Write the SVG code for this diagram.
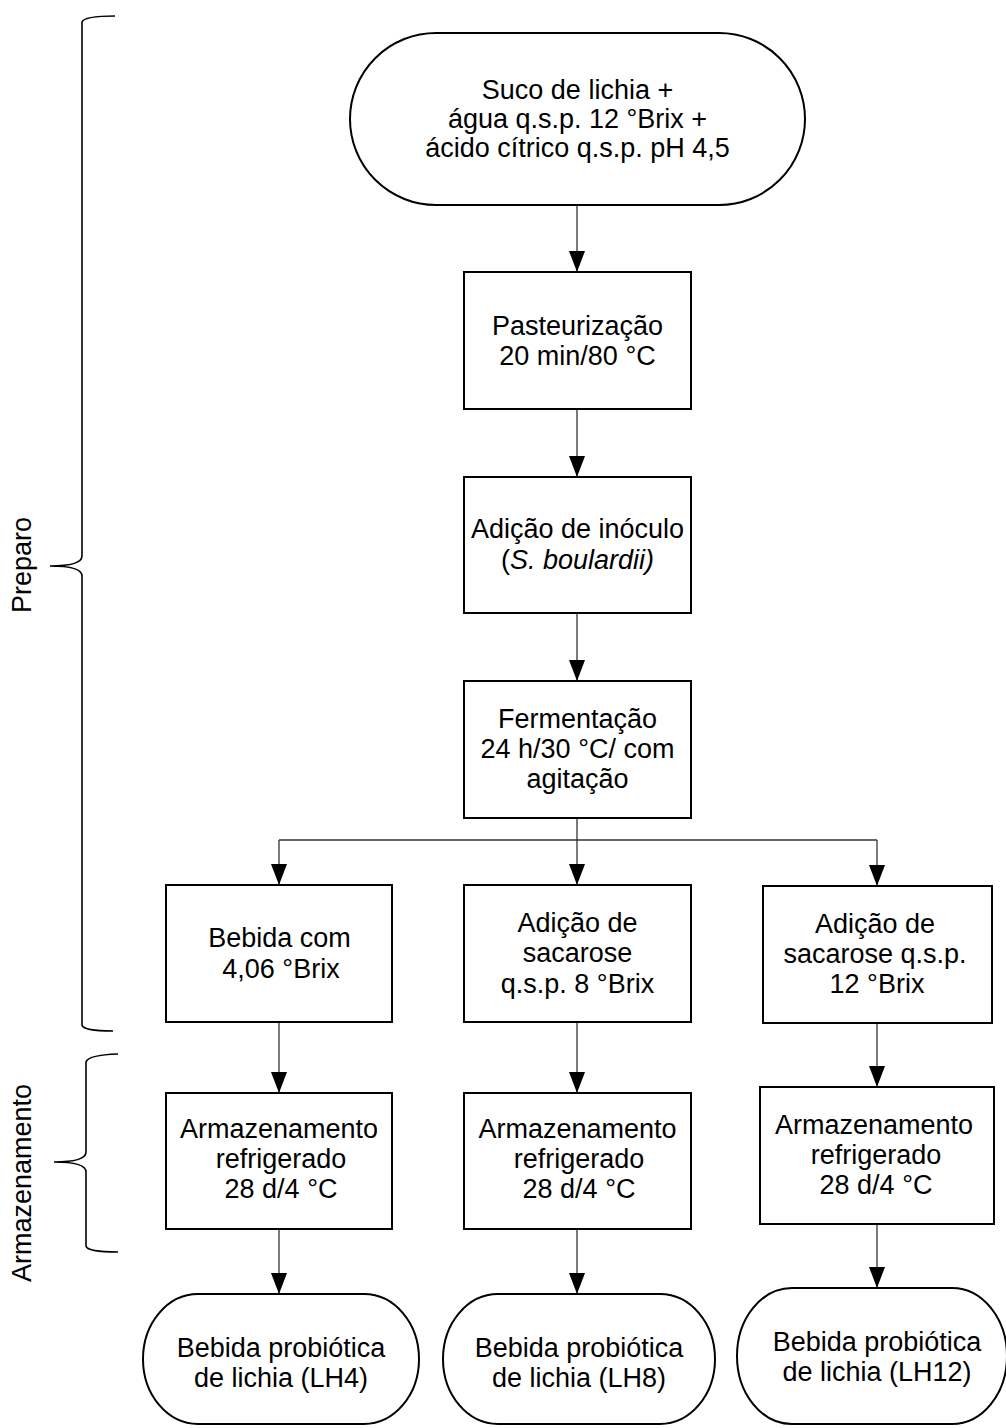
<svg xmlns="http://www.w3.org/2000/svg" width="1006" height="1428" viewBox="0 0 1006 1428">
<style>
.n{fill:#fff;stroke:#000;stroke-width:2}
.t{font-family:"Liberation Sans",Arial,sans-serif;font-size:27px;fill:#000;text-anchor:middle}
.c{fill:none;stroke:#333;stroke-width:1.3}
.b{fill:none;stroke:#000;stroke-width:1.6}
</style>
<defs>
<marker id="ah" markerWidth="21" markerHeight="16" refX="21" refY="8" orient="auto" markerUnits="userSpaceOnUse" viewBox="0 0 21 16">
<path d="M0,0 L21,8 L0,16 Z" fill="#000"/>
</marker>
</defs>
<rect width="1006" height="1428" fill="#fff"/>

<g id="braces">
<path class="b" d="M115,16 Q84,16 82,22 L82,556 Q82,566 50,566 Q82,566 82,576 L82,1025 Q83,1031 113,1031"/>
<path class="b" d="M118,1054 Q88,1055 86,1062 L86,1152 Q86,1162 54,1162 Q86,1162 86,1172 L86,1246 Q87,1252 118,1252"/>
<text class="t" transform="translate(31,565) rotate(-90)">Preparo</text>
<text class="t" transform="translate(31,1183) rotate(-90)">Armazenamento</text>
</g>

<g id="connectors">
<line class="c" x1="577" y1="205" x2="577" y2="272" marker-end="url(#ah)"/>
<line class="c" x1="577" y1="409" x2="577" y2="477" marker-end="url(#ah)"/>
<line class="c" x1="577" y1="613" x2="577" y2="681" marker-end="url(#ah)"/>
<polyline class="c" points="577,818 577,840"/>
<polyline class="c" points="279,840 877,840"/>
<line class="c" x1="279" y1="840" x2="279" y2="885" marker-end="url(#ah)"/>
<line class="c" x1="577" y1="840" x2="577" y2="885" marker-end="url(#ah)"/>
<line class="c" x1="877" y1="840" x2="877" y2="886" marker-end="url(#ah)"/>
<line class="c" x1="279" y1="1022" x2="279" y2="1093" marker-end="url(#ah)"/>
<line class="c" x1="577" y1="1022" x2="577" y2="1093" marker-end="url(#ah)"/>
<line class="c" x1="877" y1="1023" x2="877" y2="1087" marker-end="url(#ah)"/>
<line class="c" x1="279" y1="1229" x2="279" y2="1294" marker-end="url(#ah)"/>
<line class="c" x1="577" y1="1229" x2="577" y2="1294" marker-end="url(#ah)"/>
<line class="c" x1="877" y1="1224" x2="877" y2="1288" marker-end="url(#ah)"/>
</g>

<g id="start">
<rect class="n" x="350" y="33" width="455" height="172" rx="86" ry="86"/>
<text class="t" x="577.5" y="99">Suco de lichia +</text>
<text class="t" x="577.5" y="128">água q.s.p. 12 °Brix +</text>
<text class="t" x="577.5" y="157">ácido cítrico q.s.p. pH 4,5</text>
</g>

<g id="pasteurizacao">
<rect class="n" x="464" y="272" width="227" height="137"/>
<text class="t" x="577.5" y="335">Pasteurização</text>
<text class="t" x="577.5" y="365">20 min/80 °C</text>
</g>

<g id="inoculo">
<rect class="n" x="464" y="477" width="227" height="136"/>
<text class="t" x="577.5" y="538">Adição de inóculo</text>
<text class="t" x="577.5" y="569">(<tspan font-style="italic">S. boulardii)</tspan></text>
</g>

<g id="fermentacao">
<rect class="n" x="464" y="681" width="227" height="137"/>
<text class="t" x="577.5" y="728">Fermentação</text>
<text class="t" x="577.5" y="758">24 h/30 °C/ com</text>
<text class="t" x="577.5" y="788">agitação</text>
</g>

<g id="bebida4">
<rect class="n" x="166" y="885" width="226" height="137"/>
<text class="t" x="279.5" y="947">Bebida com</text>
<text class="t" x="281" y="978">4,06 °Brix</text>
</g>

<g id="sacarose8">
<rect class="n" x="464" y="885" width="227" height="137"/>
<text class="t" x="577.5" y="932">Adição de</text>
<text class="t" x="577.5" y="962">sacarose</text>
<text class="t" x="577.5" y="993">q.s.p. 8 °Brix</text>
</g>

<g id="sacarose12">
<rect class="n" x="763" y="886" width="229" height="137"/>
<text class="t" x="875" y="933">Adição de</text>
<text class="t" x="875" y="963">sacarose q.s.p.</text>
<text class="t" x="877" y="993">12 °Brix</text>
</g>

<g id="armaz4">
<rect class="n" x="166" y="1093" width="226" height="136"/>
<text class="t" x="279" y="1138">Armazenamento</text>
<text class="t" x="281" y="1168">refrigerado</text>
<text class="t" x="281" y="1198">28 d/4 °C</text>
</g>

<g id="armaz8">
<rect class="n" x="464" y="1093" width="227" height="136"/>
<text class="t" x="577.5" y="1138">Armazenamento</text>
<text class="t" x="579" y="1168">refrigerado</text>
<text class="t" x="579" y="1198">28 d/4 °C</text>
</g>

<g id="armaz12">
<rect class="n" x="760" y="1087" width="234" height="137"/>
<text class="t" x="874" y="1134">Armazenamento</text>
<text class="t" x="876" y="1164">refrigerado</text>
<text class="t" x="876" y="1194">28 d/4 °C</text>
</g>

<g id="lh4">
<rect class="n" x="143" y="1294" width="276" height="130" rx="55" ry="65"/>
<text class="t" x="281" y="1357">Bebida probiótica</text>
<text class="t" x="281" y="1387">de lichia (LH4)</text>
</g>

<g id="lh8">
<rect class="n" x="443" y="1294" width="272" height="130" rx="55" ry="65"/>
<text class="t" x="579" y="1357">Bebida probiótica</text>
<text class="t" x="579" y="1387">de lichia (LH8)</text>
</g>

<g id="lh12">
<rect class="n" x="737" y="1288" width="270" height="136" rx="55" ry="68"/>
<text class="t" x="877" y="1351">Bebida probiótica</text>
<text class="t" x="877" y="1381">de lichia (LH12)</text>
</g>
</svg>
